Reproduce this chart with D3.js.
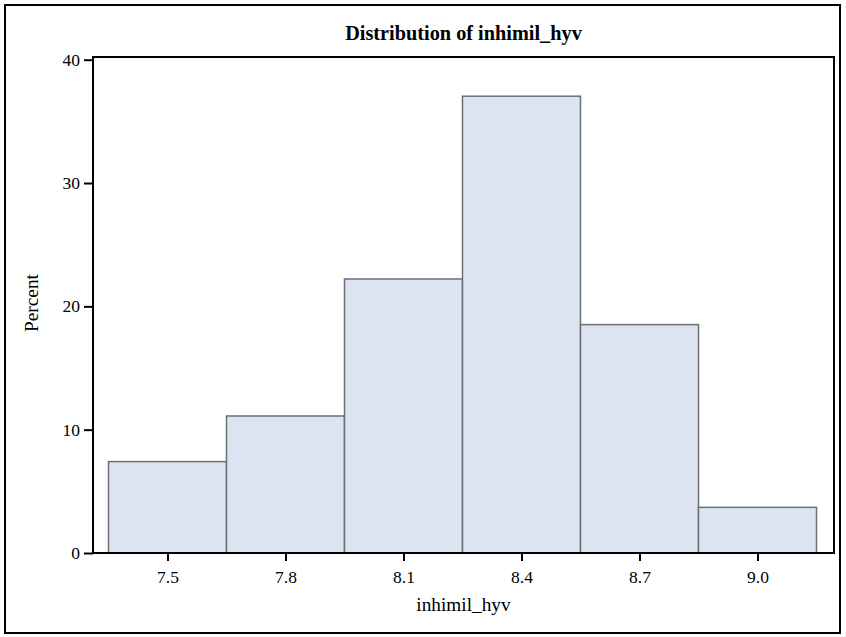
<!DOCTYPE html>
<html><head><meta charset="utf-8">
<script src="https://cdn.jsdelivr.net/npm/d3@7"></script>
<style>body{margin:0;background:#fff}svg{display:block}</style>
</head><body>
<script>
const binCenters = [7.5, 7.8, 8.1, 8.4, 8.7, 9.0];
const percents = [7.41, 11.11, 22.22, 37.04, 18.52, 3.70];
const xTicks = [7.5, 7.8, 8.1, 8.4, 8.7, 9.0];
const yTicks = [0, 10, 20, 30, 40];
const binWidth = 0.3;
const title = "Distribution of inhimil_hyv";
const xLabel = "inhimil_hyv";
const yLabel = "Percent";

const W = 846, H = 637;
const frame = {left: 93, right: 834, top: 57, bottom: 553};
const svg = d3.select("body").append("svg").attr("width", W).attr("height", H);
const font = "'Liberation Serif','Times New Roman',serif";

svg.append("rect").attr("x", 5).attr("y", 5).attr("width", 835).attr("height", 628)
  .attr("fill", "#fff").attr("stroke", "#000").attr("stroke-width", 2);

const x = d3.scaleLinear().domain([7.35, 9.15]).range([108.5, 816.5]);
const y = d3.scaleLinear().domain([0, 40]).range([553, 59.7]);

svg.append("text").attr("x", (frame.left + frame.right) / 2).attr("y", 40)
  .attr("text-anchor", "middle").attr("font-family", font).attr("font-weight", "bold")
  .attr("font-size", 20.3).attr("fill", "#000").text(title);

svg.selectAll("rect.bar").data(binCenters).enter().append("rect").attr("class", "bar")
  .attr("x", d => x(d - binWidth / 2))
  .attr("width", d => x(d + binWidth / 2) - x(d - binWidth / 2))
  .attr("y", (d, i) => y(percents[i]))
  .attr("height", (d, i) => y(0) - y(percents[i]))
  .attr("fill", "#dbe4f0").attr("stroke", "#6b7077").attr("stroke-width", 1.5);

svg.append("rect").attr("x", frame.left).attr("y", frame.top)
  .attr("width", frame.right - frame.left).attr("height", frame.bottom - frame.top)
  .attr("fill", "none").attr("stroke", "#000").attr("stroke-width", 2);

const yAxis = svg.append("g").attr("transform", `translate(${frame.left},0)`)
  .call(d3.axisLeft(y).tickValues(yTicks).tickSize(9).tickPadding(4).tickFormat(d3.format("d")));
yAxis.select(".domain").remove();
yAxis.selectAll("line").attr("stroke", "#000").attr("stroke-width", 2);
yAxis.selectAll("text").attr("font-family", font).attr("font-size", 17.5).attr("fill", "#000");

const xAxis = svg.append("g").attr("transform", `translate(0,${frame.bottom})`)
  .call(d3.axisBottom(x).tickValues(xTicks).tickSize(8).tickPadding(10).tickFormat(d3.format(".1f")));
xAxis.select(".domain").remove();
xAxis.selectAll("line").attr("stroke", "#000").attr("stroke-width", 2);
xAxis.selectAll("text").attr("font-family", font).attr("font-size", 17.5).attr("fill", "#000");

svg.append("text").attr("x", (frame.left + frame.right) / 2).attr("y", 611)
  .attr("text-anchor", "middle").attr("font-family", font).attr("font-size", 19.3)
  .attr("fill", "#000").text(xLabel);

svg.append("text").attr("transform", `translate(38,303) rotate(-90)`)
  .attr("text-anchor", "middle").attr("font-family", font).attr("font-size", 19.3)
  .attr("fill", "#000").text(yLabel);
</script>
</body></html>
